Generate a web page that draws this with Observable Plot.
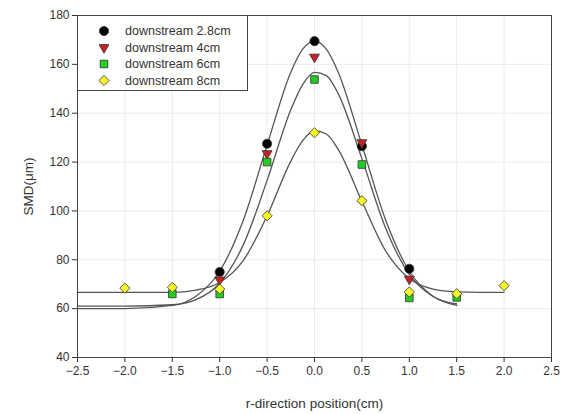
<!DOCTYPE html>
<html>
<head>
<meta charset="utf-8">
<script src="https://cdn.jsdelivr.net/npm/d3@7"></script>
<script src="https://cdn.jsdelivr.net/npm/@observablehq/plot@0.6"></script>
<style>
  html, body { margin: 0; padding: 0; background: #fff; }
  #wrap { position: relative; width: 569px; height: 414px; font-family: "Liberation Sans", Arial, sans-serif; }
  #legend { position: absolute; left: 77px; top: 15px; }
</style>
</head>
<body>
<div id="wrap"></div>
<script>
// ---- data ----
const seriesNames = ["downstream 2.8cm", "downstream 4cm", "downstream 6cm", "downstream 8cm"];
const seriesFill = ["#000000", "#c8201e", "#22cc22", "#f5f52a"];
const seriesSymbol = ["circle", "triangle", "square", "diamond2"];
const seriesRotate = [0, 180, 0, 0];
const seriesR = [4.6, 3.7, 4.3, 4.6];

const pos28 = [-1, -0.5, 0, 0.5, 1];
const smd28 = [75, 127.5, 169.5, 126.5, 76.3];
const pos4 = [-1, -0.5, 0, 0.5, 1];
const smd4 = [71.8, 123.5, 163, 128, 72.1];
const pos6 = [-1.5, -1, -0.5, 0, 0.5, 1, 1.5];
const smd6 = [66, 66, 120, 153.8, 119, 64.4, 64.6];
const pos8 = [-2, -1.5, -1, -0.5, 0, 0.5, 1, 1.5, 2];
const smd8 = [68.4, 68.7, 68, 98, 132, 104.2, 66.8, 66.1, 69.4];

// fitted curves
const fitXab = [-2.5, -2, -1.5, -1.25, -1, -0.75, -0.5, -0.25, -0.125, 0, 0.125, 0.25, 0.5, 0.75, 1, 1.25, 1.5];
const fitA = [60, 60, 61.3, 65.1, 75.3, 96.3, 127, 156.8, 166.2, 169.5, 166.2, 156.8, 127, 96.3, 75.3, 65.1, 61.3];
const fitB = [61, 61, 61.6, 63.7, 70.4, 86.2, 112.5, 141.4, 151.7, 156.7, 155.4, 148, 121.4, 93, 74, 65, 61.9];
const fitXc = [-2.5, -2, -1.5, -1.25, -1, -0.75, -0.5, -0.25, -0.125, 0, 0.125, 0.25, 0.5, 0.75, 1, 1.25, 1.5, 1.75, 2];
const fitC = [66.7, 66.7, 66.7, 67.6, 70.7, 79.8, 98, 120.4, 128.8, 132.8, 131.5, 125.2, 104, 83.7, 72.3, 68, 66.9, 66.7, 66.7];

const xTicks = [-2.5, -2, -1.5, -1, -0.5, 0, 0.5, 1, 1.5, 2, 2.5];
const yTicks = [40, 60, 80, 100, 120, 140, 160, 180];

// ---- build tables ----
const pointSets = [[pos28, smd28], [pos4, smd4], [pos6, smd6], [pos8, smd8]];
const points = pointSets.flatMap(([xs, ys], i) => xs.map((x, j) => ({x, y: ys[j], s: i})));
const fits = [
  ...fitXab.map((x, j) => ({x, y: fitA[j], f: "A"})),
  ...fitXab.map((x, j) => ({x, y: fitB[j], f: "B"})),
  ...fitXc.map((x, j) => ({x, y: fitC[j], f: "C"}))
];

const dotMarks = [0, 1, 2, 3].map(i => Plot.dot(points.filter(d => d.s === i), {
  x: "x", y: "y", symbol: () => seriesSymbol[i], r: seriesR[i],
  fill: seriesFill[i], stroke: "#333", strokeWidth: 0.8, rotate: seriesRotate[i]
}));

const chart = Plot.plot({
  width: 569, height: 414,
  marginLeft: 77, marginRight: 18, marginTop: 15, marginBottom: 57,
  style: {fontFamily: "Liberation Sans, Arial, sans-serif", fontSize: "11px", color: "#333", background: "#fff"},
  x: {domain: [-2.5, 2.5], ticks: xTicks, tickFormat: d3.format(".1f")},
  y: {domain: [40, 180], ticks: yTicks},
  symbol: {type: "identity"},
  marks: [
    Plot.gridX(xTicks, {stroke: "#e6e6e6", strokeOpacity: 1, strokeWidth: 0.8}),
    Plot.gridY(yTicks, {stroke: "#e6e6e6", strokeOpacity: 1, strokeWidth: 0.8}),
    Plot.line(fits, {x: "x", y: "y", z: "f", curve: "monotone-x", stroke: "#555", strokeWidth: 1.3}),
    ...dotMarks,
    Plot.frame({stroke: "#444", strokeWidth: 1}),
    Plot.axisX(xTicks, {tickSize: 5, tickPadding: 4, fontSize: 12, tickFormat: d3.format(".1f"),
      label: "r-direction position(cm)", labelAnchor: "center", labelArrow: "none", labelOffset: 50}),
    Plot.axisY(yTicks, {tickSize: 5, tickPadding: 3, fontSize: 12,
      label: "SMD(μm)", labelAnchor: "center", labelArrow: "none", labelOffset: 54})
  ]
});
chart.querySelectorAll('[aria-label="x-axis label"] text, [aria-label="y-axis label"] text').forEach(t => t.setAttribute("font-size", "13.5px"));

const wrap = document.getElementById("wrap");
wrap.appendChild(chart);

// ---- legend overlay ----
const lw = 171, lh = 76;
const leg = d3.create("svg").attr("id", "legend").attr("width", lw).attr("height", lh);
leg.append("rect").attr("x", 0.5).attr("y", 0.5).attr("width", lw - 1).attr("height", lh - 1)
  .attr("fill", "#fff").attr("stroke", "#444");
const symMap = {circle: d3.symbolCircle, triangle: d3.symbolTriangle, square: d3.symbolSquare, diamond2: d3.symbolDiamond2};
seriesNames.forEach((name, i) => {
  const cy = 16 + i * 16.5;
  leg.append("path")
    .attr("d", d3.symbol(symMap[seriesSymbol[i]], Math.PI * seriesR[i] * seriesR[i])())
    .attr("transform", `translate(27,${cy}) rotate(${seriesRotate[i]})`)
    .attr("fill", seriesFill[i]).attr("stroke", "#333").attr("stroke-width", 0.8);
  leg.append("text").attr("x", 48).attr("y", cy).attr("dy", "0.35em")
    .attr("font-size", "12.5px").attr("fill", "#333")
    .attr("font-family", "Liberation Sans, Arial, sans-serif").text(name);
});
wrap.appendChild(leg.node());
</script>
</body>
</html>
